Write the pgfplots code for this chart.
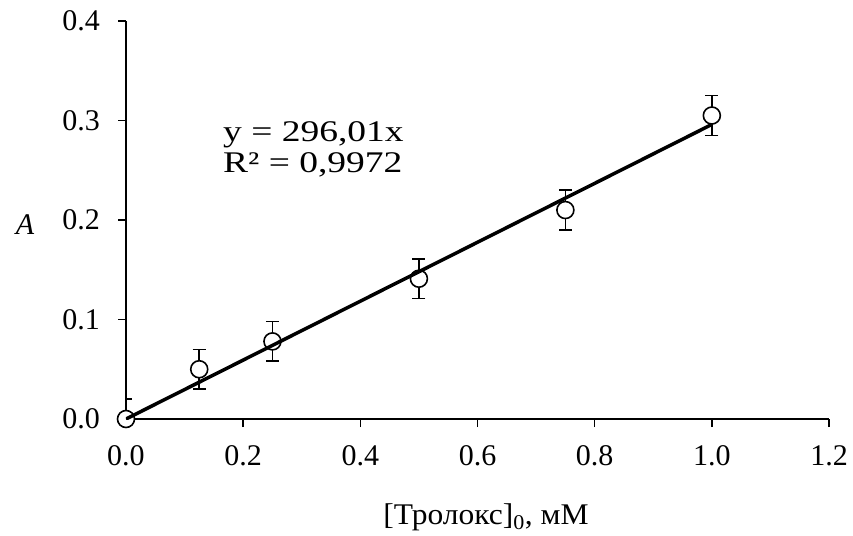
\documentclass[border=0pt]{standalone}
\usepackage{pgfplots}
\pgfplotsset{compat=1.18}
\usepackage{pgfplotstable}
\usepackage{fontspec}
\setmainfont{Liberation Serif}
\pgfplotstableread{
x y e
0 0 0.02
0.125 0.050 0.02
0.25 0.078 0.02
0.5 0.141 0.02
0.75 0.210 0.02
1.0 0.305 0.02
}\datatable
\begin{document}
\fontsize{30pt}{35pt}\selectfont
\begin{tikzpicture}
\useasboundingbox (-126pt,-116pt) rectangle (727pt,419pt);
\begin{axis}[
  at={(0pt,0pt)}, anchor=south west,
  scale only axis, width=703pt, height=398pt,
  xmin=0, xmax=1.2, ymin=0, ymax=0.4,
  axis lines*=left,
  axis line style={line width=1.4pt},
  tick align=outside,
  major tick length=8pt,
  tick style={line width=1.4pt, black},
  xtick={0,0.2,0.4,0.6,0.8,1.0,1.2},
  ytick={0,0.1,0.2,0.3,0.4},
  minor tick num=0,
  /pgf/number format/assume math mode=true,
  /pgf/number format/fixed,
  /pgf/number format/fixed zerofill,
  /pgf/number format/precision=1,
  tick label style={font=\fontsize{30pt}{35pt}\selectfont},
  yticklabel style={xshift=-8pt},
  xticklabel style={yshift=-8pt},
  clip mode=individual,
]
\addplot[only marks, black, mark=*, mark size=8.5pt,
  mark options={line width=1.6pt, draw=black, fill=white},
  error bars/.cd, y dir=both, y explicit,
  error bar style={line width=1.6pt, black},
  error mark options={rotate=90, mark size=6.5pt, line width=1.6pt, black}]
  table[x=x, y=y, y error=e] {\datatable};
\addplot[black, line width=3.5pt] coordinates {(0,0) (1,0.29601)};
\end{axis}
\node[anchor=base] at (-101pt,184pt) {\textit{A}};
\node[anchor=base] at (360pt,-105pt) {\scalebox{1.05}[1]{[Тролокс]\textsubscript{0}, мМ}};
\node[anchor=base west, inner sep=0pt] at (97pt,277pt) {\scalebox{1.25}[1]{y = 296,01x}};
\node[anchor=base west, inner sep=0pt] at (97pt,246pt) {\scalebox{1.25}[1]{R² = 0,9972}};
\end{tikzpicture}
\end{document}
